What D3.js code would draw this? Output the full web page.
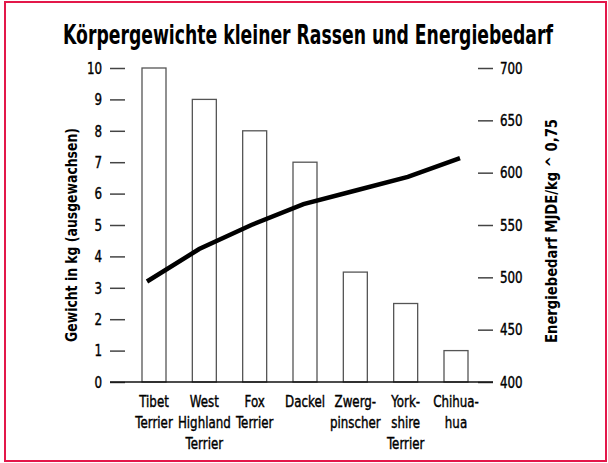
<!DOCTYPE html>
<html>
<head>
<meta charset="utf-8">
<script src="https://cdn.jsdelivr.net/npm/d3@7"></script>
<style>
  body { margin: 0; background: #fff; }
  svg text { font-family: "DejaVu Sans", sans-serif; fill: #000; }
  svg text.med { stroke: #000; stroke-width: 0.45; }
</style>
</head>
<body>
<div class="chart"></div>
<script>
var breeds = [["Tibet", "Terrier"], ["West", "Highland", "Terrier"], ["Fox", "Terrier"], ["Dackel"],
              ["Zwerg-", "pinscher"], ["York-", "shire", "Terrier"], ["Chihua-", "hua"]];
var weights = [10, 9, 8, 7, 3.5, 2.5, 1];
var energy = [496, 527, 550, 570, 583, 596, 614];
var weightTicks = [0, 1, 2, 3, 4, 5, 6, 7, 8, 9, 10];
var energyTicks = [400, 450, 500, 550, 600, 650, 700];

var w = 608, h = 463;
var narrow = 0.72;   // squeeze DejaVu to look like a condensed face
var idx = d3.range(breeds.length);

var svg = d3.select(".chart").append("svg")
            .attr("width", w)
            .attr("height", h);

// red frame
svg.append("rect")
   .attr("x", 5).attr("y", 2)
   .attr("width", 601).attr("height", 459)
   .attr("fill", "none")
   .attr("stroke", "#e3184a")
   .attr("stroke-width", 2);

svg.append("text")
   .attr("x", 308).attr("y", 44)
   .attr("text-anchor", "middle")
   .attr("font-size", 26)
   .attr("font-weight", "bold")
   .attr("textLength", 490)
   .attr("lengthAdjust", "spacingAndGlyphs")
   .text("Körpergewichte kleiner Rassen und Energiebedarf");

var x = d3.scalePoint().domain(idx).range([154, 456]);
var xLine = d3.scalePoint().domain(idx).range([147, 460]);
var yL = d3.scaleLinear().domain([0, 10]).range([382, 68]);
var yR = d3.scaleLinear().domain([400, 700]).range([382, 68]);
var barW = 24;

// bars
svg.selectAll(".bar")
   .data(weights)
   .enter().append("rect")
   .attr("class", "bar")
   .attr("x", function(d, i) { return x(i) - barW / 2; })
   .attr("y", function(d) { return yL(d); })
   .attr("width", barW)
   .attr("height", function(d) { return yL(0) - yL(d); })
   .attr("fill", "#fff")
   .attr("stroke", "#555")
   .attr("stroke-width", 1.3);

// axes
var left = svg.append("g")
   .attr("transform", "translate(125,0)")
   .call(d3.axisLeft(yL).tickValues(weightTicks).tickSize(15).tickPadding(8));
var right = svg.append("g")
   .attr("transform", "translate(478,0)")
   .call(d3.axisRight(yR).tickValues(energyTicks).tickSize(15).tickPadding(7));
[left, right].forEach(function(g) {
  g.select(".domain").remove();
  g.selectAll(".tick line").attr("stroke", "#444").attr("stroke-width", 1.5);
  g.selectAll(".tick text")
   .attr("class", "med")
   .attr("font-size", 16.5)
   .attr("font-family", null)
   .attr("transform", function() { return "translate(" + d3.select(this).attr("x") + ",0) scale(" + narrow + ",1)"; })
   .attr("x", 0);
});

// baseline
svg.append("line")
   .attr("x1", 110).attr("x2", 493)
   .attr("y1", yL(0)).attr("y2", yL(0))
   .attr("stroke", "#111")
   .attr("stroke-width", 1.6);

// energy line
var line = d3.line()
   .x(function(d, i) { return xLine(i); })
   .y(function(d) { return yR(d); });
svg.append("path")
   .datum(energy)
   .attr("d", line)
   .attr("fill", "none")
   .attr("stroke", "#000")
   .attr("stroke-width", 4.5);

// category labels
var labels = svg.selectAll(".cat")
   .data(breeds)
   .enter().append("text")
   .attr("class", "cat med")
   .attr("text-anchor", "middle")
   .attr("font-size", 16.5)
   .attr("transform", function(d, i) { return "translate(" + x(i) + ",0) scale(" + narrow + ",1)"; });
labels.selectAll("tspan")
   .data(function(d) { return d; })
   .enter().append("tspan")
   .attr("x", 0)
   .attr("y", function(d, j) { return 407 + j * 21; })
   .text(function(d) { return d; });

// axis titles
svg.append("text")
   .attr("transform", "translate(77,235) rotate(-90)")
   .attr("text-anchor", "middle")
   .attr("font-size", 16)
   .attr("font-weight", "bold")
   .attr("textLength", 214)
   .attr("lengthAdjust", "spacingAndGlyphs")
   .text("Gewicht in kg (ausgewachsen)");
svg.append("text")
   .attr("transform", "translate(557,231) rotate(-90)")
   .attr("text-anchor", "middle")
   .attr("font-size", 16)
   .attr("font-weight", "bold")
   .attr("textLength", 224)
   .attr("lengthAdjust", "spacingAndGlyphs")
   .text("Energiebedarf MJDE/kg ^ 0,75");
</script>
</body>
</html>
